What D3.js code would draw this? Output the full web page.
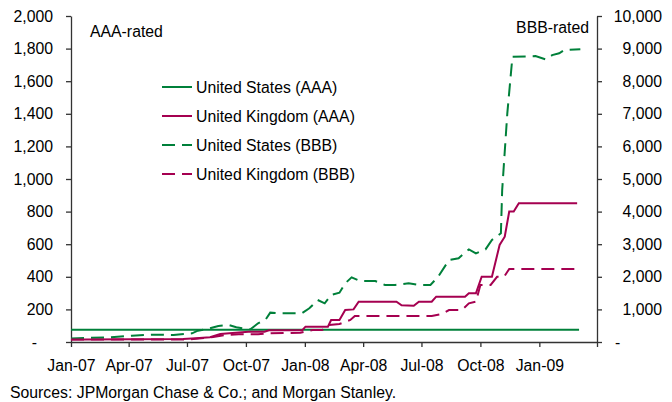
<!DOCTYPE html>
<html>
<head>
<meta charset="utf-8">
<script src="https://cdn.jsdelivr.net/npm/d3@7"></script>
<style>
  body { margin: 0; background: #fff; }
  svg { font-family: Arial, "Liberation Sans", sans-serif; }
  .axis text { font-size: 15.8px; fill: #000; }
  .axis path, .axis line { stroke: #333; stroke-width: 1.3; }
</style>
</head>
<body>
<svg id="chart" width="672" height="402"></svg>
<script>
// spreads in basis points
var usAAA = [["2007-01-01", 75], ["2009-03-04", 75]];

var ukAAA = [
  ["2007-01-01", 15], ["2007-01-22", 16], ["2007-06-25", 18], ["2007-07-15", 23],
  ["2007-08-06", 29], ["2007-08-22", 49], ["2007-09-10", 55], ["2007-10-05", 63],
  ["2007-10-30", 63], ["2007-11-06", 72], ["2007-12-28", 72], ["2008-01-02", 94],
  ["2008-02-06", 94], ["2008-02-11", 135], ["2008-02-24", 135], ["2008-03-04", 196],
  ["2008-03-17", 200], ["2008-03-25", 247], ["2008-05-23", 247], ["2008-05-31", 225],
  ["2008-06-19", 222], ["2008-06-27", 247], ["2008-07-17", 247], ["2008-07-24", 278],
  ["2008-09-07", 278], ["2008-09-13", 299], ["2008-09-24", 299], ["2008-10-03", 401],
  ["2008-10-19", 401], ["2008-10-31", 595], ["2008-11-08", 646], ["2008-11-15", 800],
  ["2008-11-22", 800], ["2008-11-30", 851], ["2009-03-01", 851]
];

var usBBB = [
  ["2007-01-01", 110], ["2007-01-22", 123], ["2007-03-04", 144], ["2007-04-06", 193],
  ["2007-05-07", 224], ["2007-06-10", 215], ["2007-07-09", 267], ["2007-07-18", 347],
  ["2007-08-06", 420], ["2007-08-19", 490], ["2007-09-04", 521], ["2007-09-16", 450],
  ["2007-10-08", 390], ["2007-10-20", 573], ["2007-11-01", 696], ["2007-11-08", 900],
  ["2007-11-21", 880], ["2007-12-27", 880], ["2008-01-08", 1033], ["2008-01-21", 1288],
  ["2008-02-01", 1187], ["2008-02-11", 1442], ["2008-02-24", 1513], ["2008-03-04", 1800],
  ["2008-03-14", 1984], ["2008-03-27", 1871], ["2008-04-20", 1871], ["2008-05-05", 1750],
  ["2008-05-21", 1750], ["2008-06-11", 1800], ["2008-06-27", 1750], ["2008-07-15", 1750],
  ["2008-07-27", 2000], ["2008-08-13", 2515], ["2008-08-28", 2570], ["2008-09-13", 2840],
  ["2008-09-24", 2720], ["2008-10-09", 2840], ["2008-10-19", 3130], ["2008-11-02", 3334],
  ["2008-11-04", 4660], ["2008-11-12", 7015], ["2008-11-20", 8750], ["2008-12-26", 8770],
  ["2009-01-11", 8670], ["2009-01-21", 8800], ["2009-02-01", 8855], ["2009-02-09", 8957],
  ["2009-03-06", 8980]
];

var ukBBB = [
  ["2007-01-01", 75], ["2007-07-03", 75], ["2007-08-11", 150], ["2007-08-30", 215],
  ["2007-09-20", 236], ["2007-10-20", 236], ["2007-11-06", 267], ["2007-12-25", 285],
  ["2008-01-13", 368], ["2008-01-28", 368], ["2008-02-08", 521], ["2008-02-24", 552],
  ["2008-03-12", 675], ["2008-03-19", 798], ["2008-07-17", 800], ["2008-08-02", 860],
  ["2008-08-13", 980], ["2008-09-02", 980], ["2008-09-13", 1187], ["2008-09-24", 1237],
  ["2008-10-01", 1750], ["2008-10-17", 1750], ["2008-10-27", 2000], ["2008-11-07", 2000],
  ["2008-11-15", 2240], ["2009-03-01", 2240]
];

var leftTicks = [0, 200, 400, 600, 800, 1000, 1200, 1400, 1600, 1800, 2000];
var rightTicks = [0, 1000, 2000, 3000, 4000, 5000, 6000, 7000, 8000, 9000, 10000];
var seriesNames = ["United States (AAA)", "United Kingdom (AAA)", "United States (BBB)", "United Kingdom (BBB)"];

var green = "#00803a";
var crimson = "#a50050";
var fs = 15.8;

var parse = d3.timeParse("%Y-%m-%d");
var svg = d3.select("#chart");

var x = d3.scaleTime()
  .domain([parse("2007-01-01"), parse("2009-04-01")])
  .range([71, 597]);
var yL = d3.scaleLinear().domain([0, 2000]).range([342, 16]);
var yR = d3.scaleLinear().domain([0, 10000]).range([342, 16]);

var fmt = d3.format(",");

// left axis
var gl = svg.append("g")
  .attr("class", "axis")
  .attr("transform", "translate(71,0)")
  .call(d3.axisLeft(yL).tickValues(leftTicks).tickSize(5).tickSizeOuter(0).tickPadding(13)
    .tickFormat(d => d === 0 ? "-" : fmt(d)));
gl.selectAll(".tick text").filter(d => d === 0).attr("dx", -16);

// right axis
var gr = svg.append("g")
  .attr("class", "axis")
  .attr("transform", "translate(597,0)")
  .call(d3.axisRight(yR).tickValues(rightTicks).tickSize(5).tickSizeOuter(0).tickPadding(13)
    .tickFormat(d => d === 0 ? "-" : fmt(d)));
gr.selectAll(".tick text")
  .attr("text-anchor", d => d === 0 ? "start" : "end")
  .attr("x", d => d === 0 ? 18 : 65);

// bottom axis
svg.append("g")
  .attr("class", "axis")
  .attr("transform", "translate(0,342)")
  .call(d3.axisBottom(x).ticks(d3.timeMonth.every(3)).tickSize(5).tickSizeOuter(0).tickPadding(13)
    .tickFormat(d => d < parse("2009-03-01") ? d3.timeFormat("%b-%y")(d) : ""));

function drawLine(data, y, color, dash) {
  var line = d3.line()
    .x(d => x(parse(d[0])))
    .y(d => y(d[1]));
  svg.append("path")
    .datum(data)
    .attr("fill", "none")
    .attr("stroke", color)
    .attr("stroke-width", 2)
    .attr("stroke-dasharray", dash)
    .attr("d", line);
}

drawLine(usAAA, yL, green, null);
drawLine(ukAAA, yL, crimson, null);
drawLine(usBBB, yR, green, "13,7");
drawLine(ukBBB, yR, crimson, "13,7");

// panel labels
svg.append("text").attr("x", 90).attr("y", 37).attr("font-size", fs).text("AAA-rated");
svg.append("text").attr("x", 589).attr("y", 33).attr("font-size", fs)
  .attr("text-anchor", "end").text("BBB-rated");

// legend
var legColors = [green, crimson, green, crimson];
var legDash = [null, null, "13,7", "13,7"];
var leg = svg.append("g").selectAll("g")
  .data(seriesNames)
  .enter().append("g")
  .attr("transform", (d, i) => "translate(162," + (87 + i * 29) + ")");
leg.append("line")
  .attr("x1", 0).attr("x2", 30)
  .attr("stroke", (d, i) => legColors[i])
  .attr("stroke-width", 2)
  .attr("stroke-dasharray", (d, i) => legDash[i]);
leg.append("text")
  .attr("x", 34).attr("dy", "0.35em")
  .attr("font-size", fs)
  .text(d => d);

// source note
svg.append("text").attr("x", 10).attr("y", 398).attr("font-size", fs)
  .text("Sources: JPMorgan Chase & Co.; and Morgan Stanley.");
</script>
</body>
</html>
